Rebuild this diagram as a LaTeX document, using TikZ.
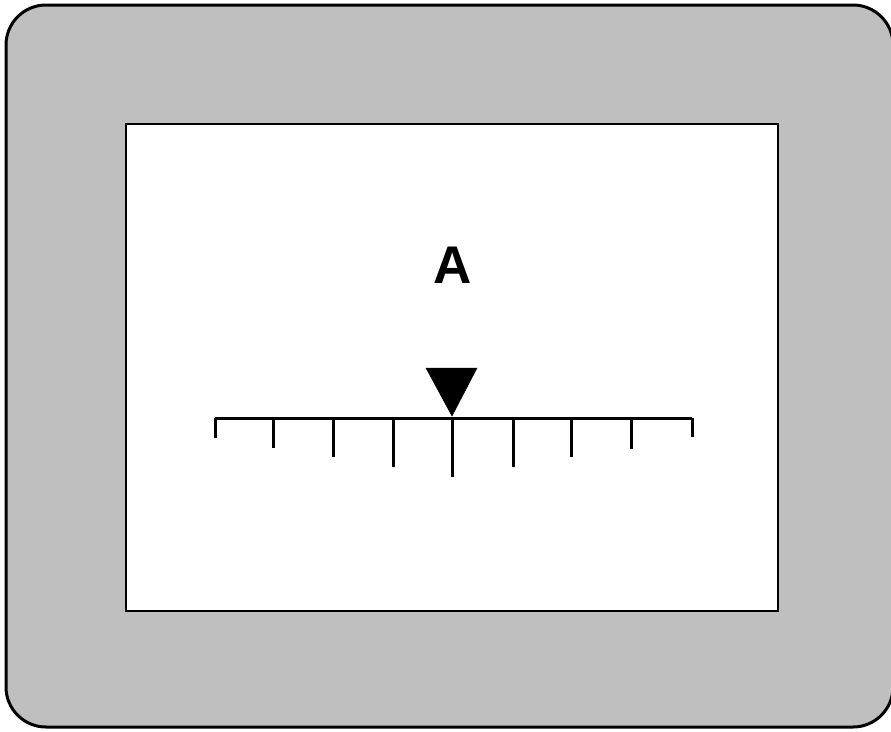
\documentclass[tikz,border=0pt]{standalone}
\usepackage{fontspec}
\setmainfont{Liberation Sans}
\begin{document}
\begin{tikzpicture}[x=1pt,y=-1pt,
  frame/.style={draw=black,line width=3pt,fill=black!25,rounded corners=40pt},
  panel/.style={draw=black,line width=2pt,fill=white},
  scaleline/.style={line width=3pt},
  tick/.style={line width=3pt},
  pointer/.style={fill=black,draw=black,line width=0.5pt}]
\useasboundingbox (0,0) rectangle (891,731);
\begin{scope}
\clip (0,0) rectangle (891,731);
\draw[frame] (6,5) rectangle (893,727);
\end{scope}
\node[panel,minimum width=652pt,minimum height=487pt,inner sep=0pt,anchor=north west] (panel) at (125,123) {};
\node[font=\fontsize{53}{53}\selectfont\bfseries,inner sep=0pt,anchor=base] (label) at (453,283) {A};
\coordinate (sl) at (215,418);
\coordinate (sr) at (692,418);
\draw[scaleline] (sl) -- (sr);
\foreach \x/\b in {215/438,273/448,333/457,393/467,452/477,513/467,571/457,631/449,692/437}{
  \coordinate (t\x) at (\x,418);
  \coordinate (e\x) at (\x,\b);
  \draw[tick] (t\x) -- (e\x);
}
\coordinate (pl) at (426,368);
\coordinate (pr) at (477,368);
\coordinate (pt) at (452,416);
\fill[pointer] (pl) -- (pr) -- (pt) -- cycle;
\end{tikzpicture}
\end{document}
